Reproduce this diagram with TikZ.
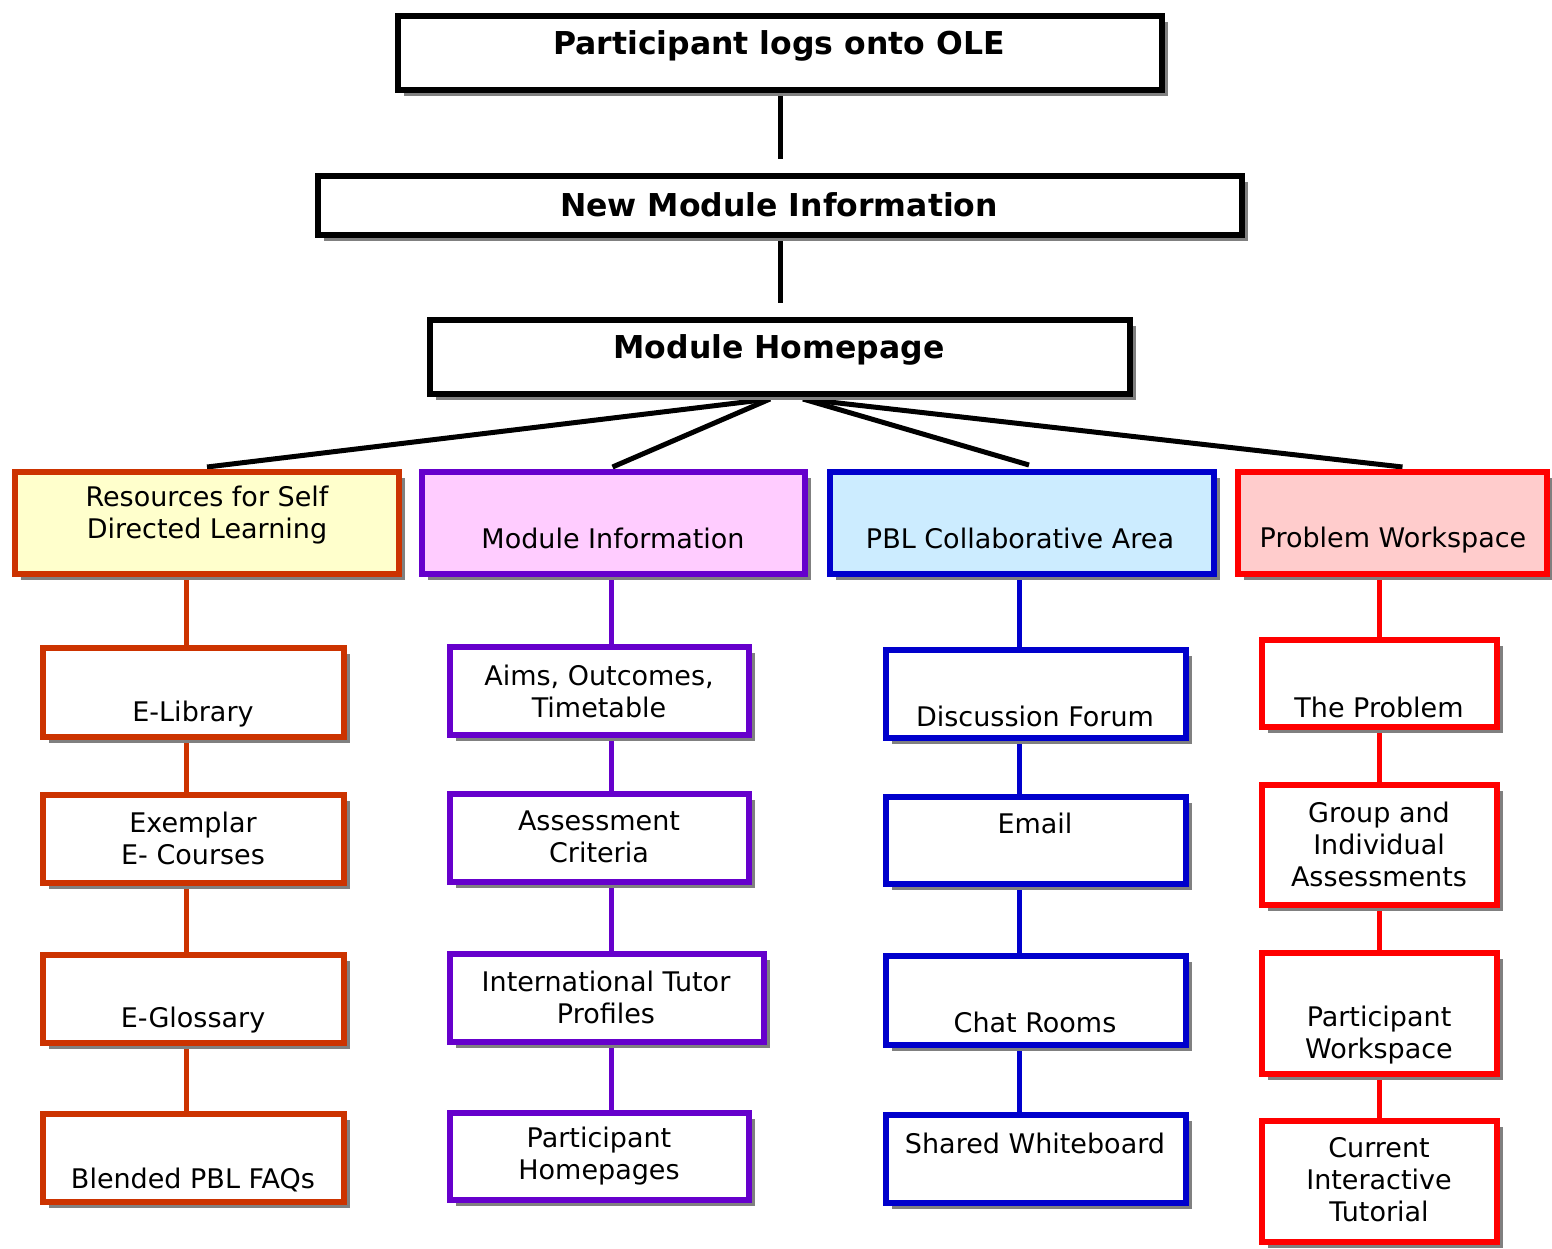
\documentclass[tikz,border=0pt]{standalone}
\usepackage{fontspec}
\setmainfont{DejaVu Sans}
\usetikzlibrary{shadows,calc}
\pgfdeclarelayer{background}
\pgfsetlayers{background,main}
\definecolor{corange}{HTML}{CC3300}
\definecolor{cpurple}{HTML}{6600CC}
\definecolor{cblue}{HTML}{0000CC}
\definecolor{cred}{HTML}{FF0000}
\definecolor{fyellow}{HTML}{FFFFCC}
\definecolor{fpink}{HTML}{FFCCFF}
\definecolor{fblue}{HTML}{CCECFF}
\definecolor{fred}{HTML}{FFCCCC}
\definecolor{shadowgray}{HTML}{808080}
\newcommand\txtfont{\fontsize{27}{32}\selectfont}
\newcommand\ttlfont{\fontsize{31.5}{36}\selectfont\bfseries}
\tikzset{
  bx/.style={draw=#1, line width=6pt, rectangle, inner sep=0pt, fill=white,
    drop shadow={shadow xshift=6pt, shadow yshift=-6pt, fill=shadowgray, opacity=1}},
  lbl/.style={inner sep=0pt, align=center, font=\txtfont, text=black},
  ttl/.style={inner sep=0pt, align=center, font=\ttlfont, text=black},
  conn/.style={draw=#1, line width=5pt},
}
\begin{document}
\begin{tikzpicture}[x=1pt, y=-1pt]
\useasboundingbox (0,0) rectangle (1552,1248);
% top boxes
\node[bx=black, minimum width=764pt, minimum height=74pt] (t1) at (780,53) {};
\node[ttl] (t1t) at (779,46) {Participant logs onto OLE};
\node[bx=black, minimum width=924pt, minimum height=59pt] (t2) at (780,205.5) {};
\node[ttl] (t2t) at (779,205) {New Module Information};
\node[bx=black, minimum width=700pt, minimum height=74pt] (t3) at (780,357) {};
\node[ttl] (t3t) at (779,350) {Module Homepage};
% categories
\node[bx=corange, fill=fyellow, minimum width=384pt, minimum height=102pt] (c1) at (207,523) {};
\node[lbl] (c1t) at (207,515) {Resources for Self\\Directed Learning};
\node[bx=cpurple, fill=fpink, minimum width=383pt, minimum height=102pt] (c2) at (613.5,523) {};
\node[lbl] (c2t) at (613,538) {Module Information};
\node[bx=cblue, fill=fblue, minimum width=384pt, minimum height=102pt] (c3) at (1022,523) {};
\node[lbl] (c3t) at (1020,538) {PBL Collaborative Area};
\node[bx=cred, fill=fred, minimum width=309pt, minimum height=102pt] (c4) at (1392.5,523) {};
\node[lbl] (c4t) at (1393,540) {Problem Workspace};
% column 1
\node[bx=corange, minimum width=301pt, minimum height=89pt] (a1) at (193.5,692.5) {};
\node[lbl] (a1t) at (193,714) {E-Library};
\node[bx=corange, minimum width=301pt, minimum height=88pt] (a2) at (193.5,839) {};
\node[lbl] (a2t) at (193,838) {Exemplar\\E- Courses};
\node[bx=corange, minimum width=301pt, minimum height=88pt] (a3) at (193.5,999) {};
\node[lbl] (a3t) at (193,1020) {E-Glossary};
\node[bx=corange, minimum width=301pt, minimum height=88pt] (a4) at (193.5,1158) {};
\node[lbl] (a4t) at (193,1180) {Blended PBL FAQs};
% column 2
\node[bx=cpurple, minimum width=299pt, minimum height=88pt] (b1) at (599.5,691) {};
\node[lbl] (b1t) at (599,691) {Aims, Outcomes,\\Timetable};
\node[bx=cpurple, minimum width=299pt, minimum height=88pt] (b2) at (599.5,838) {};
\node[lbl] (b2t) at (599,837) {Assessment\\Criteria};
\node[bx=cpurple, minimum width=314pt, minimum height=88pt] (b3) at (607,998) {};
\node[lbl] (b3t) at (606,997) {International Tutor\\Profiles};
\node[bx=cpurple, minimum width=299pt, minimum height=87pt] (b4) at (599.5,1156.5) {};
\node[lbl] (b4t) at (599,1156) {Participant\\Homepages};
% column 3
\node[bx=cblue, minimum width=300pt, minimum height=88pt] (d1) at (1036,694) {};
\node[lbl] (d1t) at (1035,716) {Discussion Forum};
\node[bx=cblue, minimum width=300pt, minimum height=87pt] (d2) at (1036,840.5) {};
\node[lbl] (d2t) at (1035,823) {Email};
\node[bx=cblue, minimum width=300pt, minimum height=89pt] (d3) at (1036,1000.5) {};
\node[lbl] (d3t) at (1035,1022) {Chat Rooms};
\node[bx=cblue, minimum width=300pt, minimum height=88pt] (d4) at (1036,1159) {};
\node[lbl] (d4t) at (1035,1143) {Shared Whiteboard};
% column 4
\node[bx=cred, minimum width=235pt, minimum height=87pt] (e1) at (1379.5,683.5) {};
\node[lbl] (e1t) at (1379,707) {The Problem};
\node[bx=cred, minimum width=235pt, minimum height=120pt] (e2) at (1379.5,845) {};
\node[lbl] (e2t) at (1379,844) {Group and\\Individual\\Assessments};
\node[bx=cred, minimum width=235pt, minimum height=121pt] (e3) at (1379.5,1013.5) {};
\node[lbl] (e3t) at (1379,1035) {Participant\\Workspace};
\node[bx=cred, minimum width=235pt, minimum height=121pt] (e4) at (1379.5,1181.5) {};
\node[lbl] (e4t) at (1379,1180) {Current\\Interactive\\Tutorial};
% coordinates
\coordinate (mhl) at (770,399);
\coordinate (mhr) at (803,399);
\coordinate (x1) at (186,0);
\coordinate (x2) at (611,0);
\coordinate (x3) at (1019,0);
\coordinate (x4) at (1379,0);
\begin{pgfonlayer}{background}
\draw[conn=black, shorten >=14pt] (t1.south) -- (t2.north);
\draw[conn=black, shorten >=14pt] (t2.south) -- (t3.north);
\draw[conn=black] (mhl) -- ($(c1.north)+(0,-2)$);
\draw[conn=black] (mhl) -- ($(c2.north)+(-1,-2)$);
\draw[conn=black] (mhr) -- ($(c3.north)+(7,-4)$);
\draw[conn=black] (mhr) -- ($(c4.north)+(10,-2)$);
\draw[conn=corange] (c1.south -| x1) -- (a1.north -| x1);
\draw[conn=corange] (a1.south -| x1) -- (a2.north -| x1);
\draw[conn=corange] (a2.south -| x1) -- (a3.north -| x1);
\draw[conn=corange] (a3.south -| x1) -- (a4.north -| x1);
\draw[conn=cpurple] (c2.south -| x2) -- (b1.north -| x2);
\draw[conn=cpurple] (b1.south -| x2) -- (b2.north -| x2);
\draw[conn=cpurple] (b2.south -| x2) -- (b3.north -| x2);
\draw[conn=cpurple] (b3.south -| x2) -- (b4.north -| x2);
\draw[conn=cblue] (c3.south -| x3) -- (d1.north -| x3);
\draw[conn=cblue] (d1.south -| x3) -- (d2.north -| x3);
\draw[conn=cblue] (d2.south -| x3) -- (d3.north -| x3);
\draw[conn=cblue] (d3.south -| x3) -- (d4.north -| x3);
\draw[conn=cred] (c4.south -| x4) -- (e1.north -| x4);
\draw[conn=cred] (e1.south -| x4) -- (e2.north -| x4);
\draw[conn=cred] (e2.south -| x4) -- (e3.north -| x4);
\draw[conn=cred] (e3.south -| x4) -- (e4.north -| x4);
\end{pgfonlayer}
\end{tikzpicture}
\end{document}
